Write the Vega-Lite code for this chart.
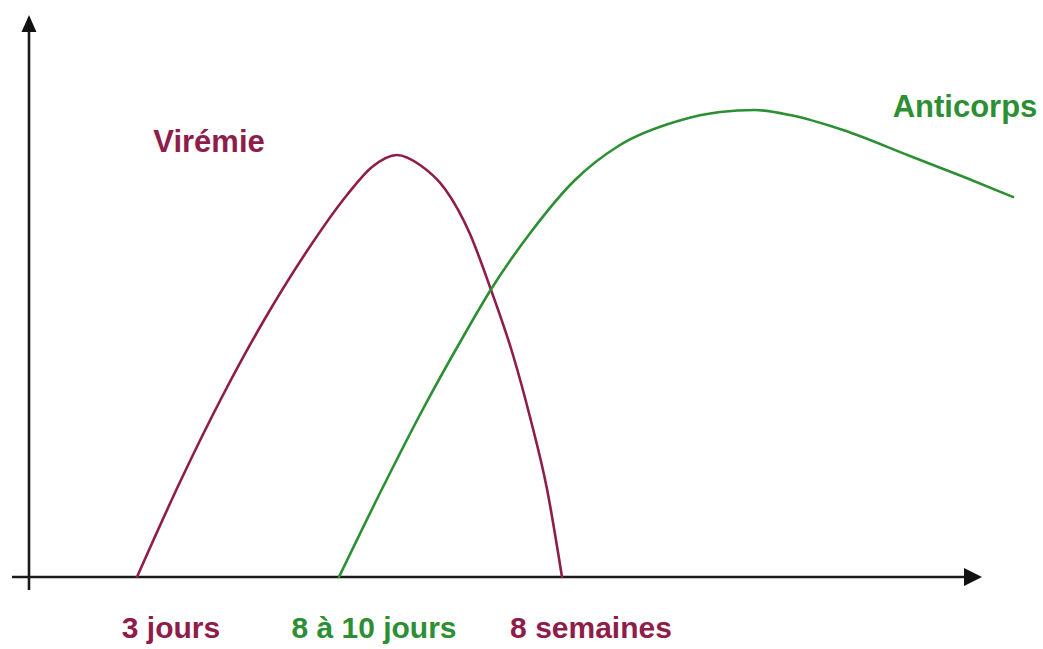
{
  "$schema": "https://vega.github.io/schema/vega-lite/v6.json",
  "width": 1043,
  "height": 649,
  "autosize": {"type": "none"},
  "padding": 0,
  "background": "white",
  "config": {"view": {"stroke": null}},
  "datasets": {
    "curves": [
      {"serie": "Virémie", "t": 137, "level": 0},
      {"serie": "Virémie", "t": 180, "level": 95},
      {"serie": "Virémie", "t": 223, "level": 182},
      {"serie": "Virémie", "t": 263, "level": 255},
      {"serie": "Virémie", "t": 307, "level": 326},
      {"serie": "Virémie", "t": 347, "level": 382},
      {"serie": "Virémie", "t": 372, "level": 410},
      {"serie": "Virémie", "t": 397, "level": 422},
      {"serie": "Virémie", "t": 420, "level": 412},
      {"serie": "Virémie", "t": 445, "level": 388},
      {"serie": "Virémie", "t": 470, "level": 343},
      {"serie": "Virémie", "t": 490, "level": 290},
      {"serie": "Virémie", "t": 513, "level": 222},
      {"serie": "Virémie", "t": 530, "level": 160},
      {"serie": "Virémie", "t": 547, "level": 88},
      {"serie": "Virémie", "t": 562, "level": 0},
      {"serie": "Anticorps", "t": 339, "level": 0},
      {"serie": "Anticorps", "t": 383, "level": 90},
      {"serie": "Anticorps", "t": 423, "level": 168},
      {"serie": "Anticorps", "t": 463, "level": 240},
      {"serie": "Anticorps", "t": 490, "level": 286},
      {"serie": "Anticorps", "t": 531, "level": 345},
      {"serie": "Anticorps", "t": 575, "level": 397},
      {"serie": "Anticorps", "t": 620, "level": 432},
      {"serie": "Anticorps", "t": 678, "level": 456},
      {"serie": "Anticorps", "t": 720, "level": 465},
      {"serie": "Anticorps", "t": 755, "level": 467},
      {"serie": "Anticorps", "t": 790, "level": 462},
      {"serie": "Anticorps", "t": 843, "level": 447},
      {"serie": "Anticorps", "t": 910, "level": 421},
      {"serie": "Anticorps", "t": 964, "level": 400},
      {"serie": "Anticorps", "t": 1013, "level": 380}
    ],
    "labels": [
      {"serie": "Virémie", "text": "Virémie", "t": 209, "level": 425, "size": 31},
      {"serie": "Anticorps", "text": "Anticorps", "t": 965, "level": 460, "size": 31},
      {"serie": "Virémie", "text": "3 jours", "t": 171, "level": -61, "size": 30},
      {"serie": "Anticorps", "text": "8 à 10 jours", "t": 374, "level": -61, "size": 30},
      {"serie": "Virémie", "text": "8 semaines", "t": 591, "level": -61, "size": 30}
    ],
    "axes": [
      {"axis": "y", "t": 29, "t2": 29, "level": -13, "level2": 548},
      {"axis": "x", "t": 12, "t2": 968, "level": 0, "level2": 0}
    ],
    "arrows": [
      {"axis": "y", "t": 29, "level": 553.5},
      {"axis": "x", "t": 973, "level": 0}
    ]
  },
  "layer": [
    {
      "data": {"name": "axes"},
      "mark": {"type": "rule", "stroke": "#1a1a1a", "strokeWidth": 2.6},
      "encoding": {
        "x": {"field": "t", "type": "quantitative", "scale": {"domain": [0, 1043], "nice": false, "zero": false}, "axis": null},
        "x2": {"field": "t2"},
        "y": {"field": "level", "type": "quantitative", "scale": {"domain": [-72, 577], "nice": false, "zero": false}, "axis": null},
        "y2": {"field": "level2"}
      }
    },
    {
      "data": {"name": "arrows"},
      "transform": [{"filter": "datum.axis === 'y'"}],
      "mark": {"type": "point", "shape": "M0,-1L0.88,1L-0.88,1Z", "filled": true, "color": "#111111", "opacity": 1, "size": 289, "strokeWidth": 0},
      "encoding": {
        "x": {"field": "t", "type": "quantitative", "scale": {"domain": [0, 1043], "nice": false, "zero": false}, "axis": null},
        "y": {"field": "level", "type": "quantitative", "scale": {"domain": [-72, 577], "nice": false, "zero": false}, "axis": null}
      }
    },
    {
      "data": {"name": "arrows"},
      "transform": [{"filter": "datum.axis === 'x'"}],
      "mark": {"type": "point", "shape": "M1,0L-1,1L-1,-1Z", "filled": true, "color": "#111111", "opacity": 1, "size": 324, "strokeWidth": 0},
      "encoding": {
        "x": {"field": "t", "type": "quantitative", "scale": {"domain": [0, 1043], "nice": false, "zero": false}, "axis": null},
        "y": {"field": "level", "type": "quantitative", "scale": {"domain": [-72, 577], "nice": false, "zero": false}, "axis": null}
      }
    },
    {
      "data": {"name": "curves"},
      "mark": {"type": "line", "interpolate": "monotone", "strokeWidth": 2.6, "strokeCap": "round"},
      "encoding": {
        "x": {"field": "t", "type": "quantitative", "scale": {"domain": [0, 1043], "nice": false, "zero": false}, "axis": null},
        "y": {"field": "level", "type": "quantitative", "scale": {"domain": [-72, 577], "nice": false, "zero": false}, "axis": null},
        "color": {"field": "serie", "type": "nominal", "scale": {"domain": ["Virémie", "Anticorps"], "range": ["#8e1d4b", "#2d8f34"]}, "legend": null},
        "order": {"field": "t", "type": "quantitative"}
      }
    },
    {
      "data": {"name": "labels"},
      "mark": {"type": "text", "font": "Liberation Sans", "fontWeight": "bold", "align": "center", "baseline": "alphabetic"},
      "encoding": {
        "x": {"field": "t", "type": "quantitative", "scale": {"domain": [0, 1043], "nice": false, "zero": false}, "axis": null},
        "y": {"field": "level", "type": "quantitative", "scale": {"domain": [-72, 577], "nice": false, "zero": false}, "axis": null},
        "text": {"field": "text"},
        "size": {"field": "size", "type": "quantitative", "scale": null},
        "color": {"field": "serie", "type": "nominal", "scale": {"domain": ["Virémie", "Anticorps"], "range": ["#8e1d4b", "#2d8f34"]}, "legend": null}
      }
    }
  ]
}
